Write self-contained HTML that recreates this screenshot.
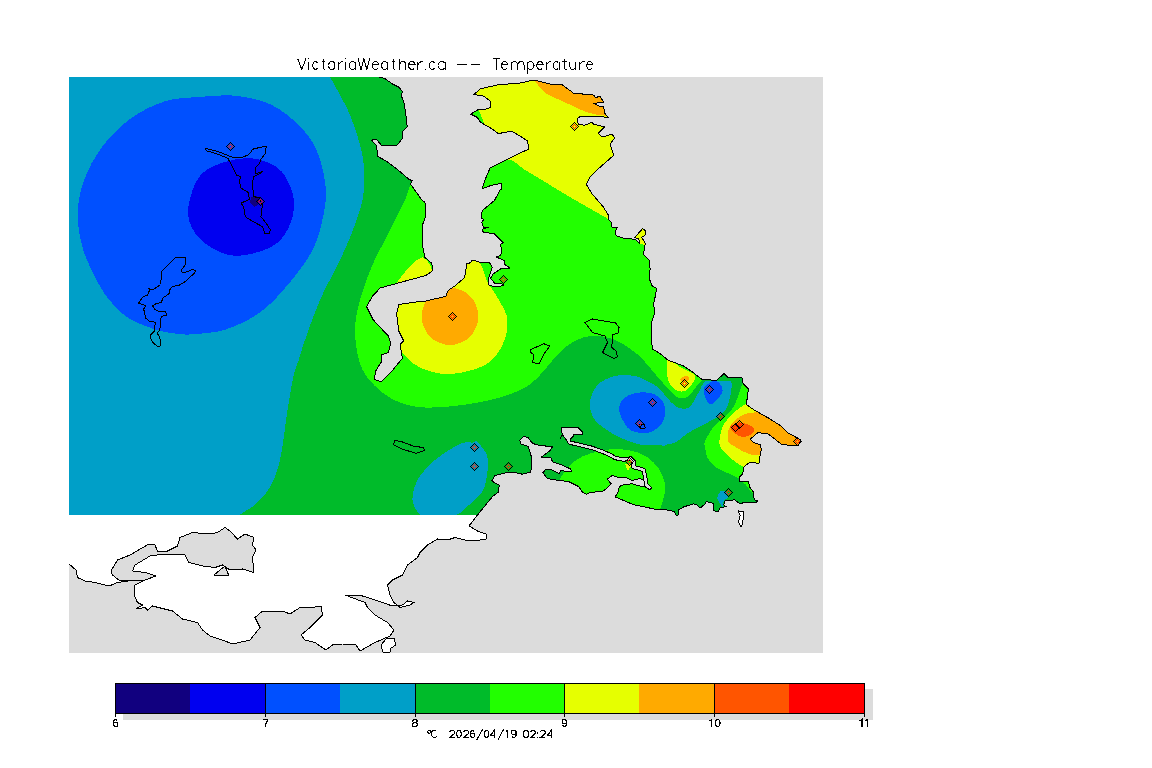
<!DOCTYPE html>
<html><head><meta charset="utf-8"><style>
html,body{margin:0;padding:0;background:#fff;width:1152px;height:768px;overflow:hidden}
svg{display:block;font-family:"Liberation Sans",sans-serif}
</style></head><body>
<svg width="1152" height="768" viewBox="0 0 1152 768" shape-rendering="crispEdges">
<rect x="69" y="77" width="754" height="576" fill="#dcdcdc"/>
<defs><clipPath id="cd"><path d="M69,77 L379.5,77 L384.4,78.3 L392.6,84 L399,87.2 L402.3,91.3 L401.5,96.2 L403.9,102.7 L405.6,112.4 L407.2,127.1 L402.3,132 L402.3,138.5 L397.4,145 L381.2,145 L376.3,139.3 L371.4,140.1 L376.3,145 L377.9,156.4 L387.7,162.1 L397.4,169.4 L408.8,179.2 L412.1,180.8 L410.5,184 L421.8,200 L425,202.5 L426,215 L422.5,225 L422.5,245 L425,257.5 L431.8,263.4 L432.9,270.5 L425.9,275.5 L400,282.5 L380.2,288 L372.5,296 L366.6,306.8 L373.1,319.7 L388.4,336.1 L390.7,343.2 L388.4,352.5 L381.3,354.9 L381.3,361.9 L375.5,371.3 L374.3,379.5 L381.3,381.9 L390.7,372.5 L402.4,358.4 L400.1,344.3 L403.6,340.8 L398.9,331.4 L396.6,313.9 L398.9,304.5 L415.3,302.1 L425.9,301 L445.8,296.3 L448.2,290.4 L455.2,285.7 L464.6,277.5 L466.9,263.4 L470.2,262.9 L471.9,260.4 L477,261.2 L482.1,262.9 L489.7,262.9 L492.3,267.2 L490.6,272.3 L488,279.9 L488.9,285 L494,286.7 L503.3,285.8 L503.3,284.1 L494.8,283.3 L490.6,278.2 L493.1,274 L500.7,268.9 L510,268 L505,264.6 L504.1,260.4 L498.2,257.9 L496.5,257 L500.7,255.3 L501.6,251.1 L500.7,244.3 L503.3,242.6 L499.2,238.8 L494.3,233.9 L483.1,232 L482.6,229.1 L488.4,227.1 L483.6,227.1 L481.6,222.2 L484,219.3 L481.6,218.3 L481.1,214.4 L482.6,210.5 L489.4,204.6 L494.3,200.7 L500.2,190 L501.6,188.9 L501.6,183.2 L490.2,185.7 L482.1,188.9 L485.3,179.2 L490.2,167.8 L506.5,159.6 L520,153.1 L529,149 L527.5,141 L520,136 L511.4,131.2 L498.3,133.6 L491.8,128.7 L480.4,122.2 L477.2,117.3 L470.7,114.1 L478.8,109.2 L483.7,110 L490.2,107.6 L490.2,101 L483.7,96.2 L473.9,94.5 L480.4,88.8 L498.3,84.8 L520,83.1 L534,80 L550,84 L562.5,85 L570,90.5 L573.6,93.2 L584.6,94.2 L593.7,95.1 L595.5,97.8 L600.1,96 L603.7,102.4 L593.7,103.3 L599.2,106 L603.7,106.9 L604.7,113.3 L608.3,117.3 L599.2,116.6 L588.2,116 L580.9,116 L577.3,118.8 L578.2,124.3 L584.6,125.2 L591.9,122.4 L593.7,124.3 L604.7,127 L601,130.6 L598.3,133.4 L601.9,137 L612,134.3 L614.7,137.9 L610.1,144.3 L613.8,155.3 L599.2,168 L590.1,177.2 L586.4,184.4 L591.9,193.6 L602.8,206.3 L608.4,215 L608.4,219.7 L611.5,222.3 L611.8,227 L617.5,227.5 L615.7,230.6 L615.4,234.8 L618,236.4 L622.2,237.9 L630,238.7 L635.2,239.5 L639.4,243.1 L638.9,239 L634.7,237.4 L640.9,230.6 L642.5,228.3 L645.6,231.1 L645.6,234.8 L641.5,237.4 L644.6,241.6 L645.4,244.2 L644.1,248.3 L644.6,245.5 L643.7,254.6 L649.2,260 L650.1,269.2 L649.2,278.3 L651.9,285.6 L656.5,288.3 L655.6,294.7 L653.7,303.8 L654.6,312.9 L651,323.8 L651,340.2 L652.8,349.3 L659.2,353 L668.3,360.3 L682.9,365.7 L691.7,371.4 L702,379.5 L716.7,380.3 L724,373.6 L728.5,378 L741.8,377.3 L743.3,384 L748.5,389 L746.3,404.6 L755,410.5 L768.4,418 L780,425.3 L787.6,432.6 L800.9,440 L798,446 L781.7,444.5 L768.4,434 L758,432.6 L750,439.3 L753.1,442.3 L760.2,444.7 L761.3,449.4 L760.2,455.2 L759,463.4 L749.6,462.3 L743.8,467 L742.6,474 L739.1,477.5 L739.1,481 L748.4,481 L749.6,486.9 L753.1,491.6 L754.3,499.8 L757.8,501 L755.5,502.7 L746.1,502.7 L739.1,503.3 L734.4,499.8 L725,500.9 L723.8,505 L726.2,506.8 L720.3,507.4 L718,511.5 L713.9,510.9 L713.3,505.6 L713.3,503.3 L706.3,501.5 L705.1,503.9 L700.4,508 L696.9,505 L693.4,503.9 L684,506.8 L678.1,510.3 L678.1,515 L675.8,515 L674.6,511.5 L665.2,509.7 L654.7,509.1 L633.3,504.6 L615.1,496.8 L617.7,492.9 L619.6,486.4 L622.9,485 L632,483.8 L641.1,486.4 L649.6,487.7 L646,481 L640,478.6 L632,480.5 L625.5,477.3 L617.7,477.3 L612.5,475.3 L607.3,479.2 L611.2,483.8 L607.3,487.7 L603.4,490.9 L589,492.9 L586.4,494.2 L582.5,492 L578.4,486.5 L568.9,481.7 L553.8,479.7 L547,478.3 L542.9,472.8 L545.6,469.4 L552.5,470.1 L559.3,473.5 L560.7,470.8 L571.6,471.5 L570.2,468.7 L560.7,464.6 L552.5,461.9 L551.1,457.8 L541.5,457.1 L549.7,451 L552.5,446.9 L536.1,444.8 L532,442.8 L527.9,437.3 L523.8,436.6 L519.7,440 L521,444.1 L527.9,446.2 L529.2,449.6 L531.3,456.4 L532,466 L530.6,472.2 L522.4,474.2 L512.8,472.2 L506,472.8 L495,475.6 L491.7,481 L499.2,485.1 L498.5,492 L492.3,496.8 L477.5,515 L69,515 Z"/></clipPath><clipPath id="cr"><rect x="69" y="77" width="754" height="438"/></clipPath></defs>
<g clip-path="url(#cr)"><g clip-path="url(#cd)"><rect x="69" y="77" width="754" height="438" fill="#00bb2a"/><path d="M330,77 C331.7,80.0 336.7,88.7 340,95 C343.3,101.3 346.7,106.7 350,115 C353.3,123.3 357.7,135.8 360,145 C362.3,154.2 363.6,160.8 364,170 C364.4,179.2 364.8,188.8 362.5,200 C360.2,211.2 354.2,226.7 350,237.5 C345.8,248.3 342.5,254.6 337.5,265 C332.5,275.4 325.4,287.5 320,300 C314.6,312.5 308.5,330.0 305,340 C301.5,350.0 300.6,354.2 298.75,360 C296.9,365.8 295.6,366.7 293.75,375 C291.9,383.3 289.6,396.7 287.5,410 C285.4,423.3 283.5,442.9 281,455 C278.5,467.1 276.4,474.6 272.5,482.5 C268.6,490.4 262.9,497.2 257.5,502.5 C252.1,507.8 245.4,510.8 240,514.5 C234.6,518.2 227.5,523.2 225,525 L60,525 L60,60 L320,60 Z" fill="#009fc8"/><path d="M200.6,96.9 C188.9,97.8 177.2,97.5 165.5,101.1 C153.8,104.7 140.9,111.1 130.3,118.7 C119.8,126.3 109.8,136.8 102.2,146.8 C94.6,156.8 88.7,167.4 84.6,178.5 C80.5,189.6 77.9,201.9 77.6,213.6 C77.3,225.3 79.4,237.1 82.9,248.8 C86.4,260.5 93.9,274.9 98.7,283.9 C103.5,292.9 106.8,297.1 112,303 C117.2,308.9 122.5,314.5 130,319 C137.5,323.5 149.3,327.6 157,330 C164.7,332.4 170.2,332.9 176,333.6 C181.8,334.3 183.8,335.0 192,334.3 C200.2,333.6 213.9,333.3 225.3,329.6 C236.7,325.9 249.8,319.7 260.4,312.1 C270.9,304.5 279.8,294.4 288.6,283.9 C297.4,273.3 307.4,260.5 313.2,248.8 C319.0,237.1 321.6,224.2 323.7,213.6 C325.8,203.0 326.7,196.1 325.5,185.5 C324.3,174.9 321.1,160.3 316.7,150.3 C312.3,140.3 306.7,133.3 299.1,125.7 C291.5,118.1 281.6,109.6 271,104.6 C260.4,99.6 247.5,97.1 235.8,95.8 C224.1,94.5 212.3,96.0 200.6,96.9 Z" fill="#0050ff"/><path d="M188.3,206.6 C189.8,197.8 193.8,182.5 200.6,174.9 C207.3,167.3 219.4,163.5 228.8,160.9 C238.2,158.3 248.1,157.3 256.9,159.1 C265.7,160.8 275.4,164.7 281.5,171.4 C287.6,178.1 292.6,190.1 293.8,199.5 C295.0,208.9 292.4,219.8 288.6,227.7 C284.8,235.6 279.8,242.3 271,247 C262.2,251.7 246.4,256.1 235.8,255.8 C225.2,255.5 215.0,250.0 207.7,245.3 C200.4,240.6 195.1,234.1 191.9,227.7 C188.7,221.2 186.9,215.4 188.3,206.6 Z" fill="#0000f0"/><path d="M251,197 L256,196 L259,199 L258,205 L254,207 L250,203 Z" fill="#11007f" /><path d="M420,160 C418.5,163.7 413.5,175.3 411,182 C408.5,188.7 408.9,191.2 405,200 C401.1,208.8 392.9,224.2 387.5,235 C382.1,245.8 377.1,254.2 372.5,265 C367.9,275.8 362.9,289.2 360,300 C357.1,310.8 355.2,320.0 355,330 C354.8,340.0 356.9,352.1 359,360 C361.1,367.9 363.6,372.1 367.5,377.5 C371.4,382.9 377.1,388.3 382.5,392.5 C387.9,396.7 392.9,400.0 400,402.5 C407.1,405.0 414.6,407.1 425,407.5 C435.4,407.9 450.0,406.7 462.5,405 C475.0,403.3 489.6,400.4 500,397.5 C510.4,394.6 518.3,391.2 525,387.5 C531.7,383.8 533.3,381.7 540,375 C546.7,368.3 556.7,354.0 565,347.5 C573.3,341.0 581.7,337.2 590,336 C598.3,334.8 607.5,337.2 615,340 C622.5,342.8 630.0,348.8 635,352.5 C640.0,356.2 641.7,358.5 645,362 C648.3,365.5 651.2,369.4 654.8,373.6 C658.4,377.8 662.9,383.1 666.6,387 C670.3,390.9 673.6,395.5 677,397.2 C680.4,398.9 684.0,398.9 687.2,397.2 C690.4,395.5 693.3,389.9 696,387 C698.7,384.1 700.3,382.3 703.5,379.5 C706.7,376.7 713.1,371.6 715,370 L823,370 L823,60 L430,60 Z" fill="#22ff00"/><path d="M395,290 C391.7,288.2 400.4,277.4 405,272 C409.6,266.6 417.9,257.4 422.5,257.5 C427.1,257.6 432.1,268.2 432.5,272.5 C432.9,276.8 431.2,280.1 425,283 C418.8,285.9 398.3,291.8 395,290 Z" fill="#e6ff00"/><path d="M455,270 C456.8,268.7 461.9,263.2 466,262 C470.1,260.8 476.4,260.4 479.6,263 C482.9,265.6 483.8,273.5 485.5,277.3 C487.2,281.1 487.8,282.2 490,286 C492.2,289.8 496.1,294.3 499,300 C501.9,305.7 506.9,312.5 507.5,320 C508.1,327.5 506.2,337.5 502.5,345 C498.8,352.5 493.8,360.2 485,365 C476.2,369.8 460.8,373.6 450,374 C439.2,374.4 428.0,371.2 420,367.5 C412.0,363.8 406.2,357.4 402,352 C397.8,346.6 396.2,337.8 395,335 L380,300 L430,290 Z" fill="#e6ff00"/><path d="M421.5,316 C421.5,309.2 425.2,300.8 430,296 C434.8,291.2 443.3,287.5 450,287.5 C456.7,287.5 465.2,291.2 470,296 C474.8,300.8 478.5,309.2 478.5,316 C478.5,322.8 474.8,332.2 470,337 C465.2,341.8 456.7,345.0 450,345 C443.3,345.0 434.8,341.8 430,337 C425.2,332.2 421.5,322.8 421.5,316 Z" fill="#ffaa00"/><path d="M480,170 C484.6,168.2 500.0,159.5 507.5,159.5 C515.0,159.5 517.9,165.8 525,170 C532.1,174.2 541.7,180.0 550,185 C558.3,190.0 565.0,194.2 575,200 C585.0,205.8 600.8,214.7 610,220 C619.2,225.3 626.7,230.0 630,232 L640,60 L460,60 L470,110 Z" fill="#e6ff00"/><path d="M530,75 C532.5,77.9 540.0,88.3 545,92.5 C550.0,96.7 552.8,96.7 560,100 C567.2,103.3 580.1,109.8 588,112.5 C595.9,115.2 602.2,115.1 607.5,116 C612.8,116.9 617.9,117.7 620,118 L620,70 Z" fill="#ffaa00"/><path d="M634,238 L642,227 L647,231 L646,245 L640,244 Z" fill="#e6ff00" /><path d="M462,112 L478.8,110 L484.5,124 L466,126 Z" fill="#22ff00" /><path d="M590,402.5 C590.4,396.7 593.3,389.4 597.5,385 C601.7,380.6 608.8,377.5 615,376 C621.2,374.5 629.2,374.9 635,376 C640.8,377.1 646.0,380.4 650,382.5 C654.0,384.6 654.8,384.5 659,388.4 C663.2,392.3 670.4,402.8 675.4,406 C680.4,409.2 685.0,409.6 688.7,407.6 C692.4,405.7 694.9,398.6 697.6,394.3 C700.3,390.0 701.8,383.9 705,381.7 C708.2,379.5 713.3,381.1 716.7,381 C720.1,380.9 723.1,380.8 725.6,381 C728.1,381.2 730.8,379.8 731.5,382.5 C732.2,385.2 731.2,392.3 730,397.2 C728.8,402.1 727.2,408.1 724,412 C720.8,415.9 716.7,417.4 710.8,420.8 C704.9,424.2 694.8,428.9 688.7,432.6 C682.6,436.3 679.0,441.0 674,443 C669.0,445.0 664.7,444.2 659,444.5 C653.3,444.8 647.3,446.1 640,444.5 C632.7,442.9 622.5,439.1 615,435 C607.5,430.9 599.2,425.4 595,420 C590.8,414.6 589.6,408.3 590,402.5 Z" fill="#009fc8"/><path d="M619,410 C618.6,405.0 621.5,400.4 625,397.5 C628.5,394.6 635.0,393.0 640,392.5 C645.0,392.0 650.9,392.6 654.8,394.3 C658.7,396.1 661.9,399.6 663.6,403 C665.3,406.4 665.7,411.1 665,415 C664.3,418.9 661.9,423.8 659.2,426.7 C656.5,429.6 652.4,431.6 648.9,432.6 C645.4,433.6 641.6,433.5 638,432.6 C634.4,431.8 630.7,431.3 627.5,427.5 C624.3,423.7 619.4,415.0 619,410 Z" fill="#0050ff"/><path d="M703.5,391.3 C703.0,387.9 705.8,385.7 708,384 C710.2,382.3 714.3,379.8 716.7,381 C719.1,382.2 723.6,387.4 722.6,391.3 C721.6,395.2 714.0,404.6 710.8,404.6 C707.6,404.6 704.0,394.7 703.5,391.3 Z" fill="#0050ff"/><path d="M666.6,361.8 C666.6,365.4 666.5,374.8 668,379.5 C669.5,384.2 672.4,387.9 675.4,389.8 C678.4,391.7 682.5,392.3 685.7,390.6 C688.9,388.9 693.4,382.3 694.6,379.5 C695.8,376.7 695.4,375.7 693,373.6 C690.6,371.5 684.2,369.6 680,367 C675.8,364.4 670.2,358.9 668,358 C665.8,357.1 666.6,358.2 666.6,361.8 Z" fill="#e6ff00"/><path d="M680,379 C680.2,378.2 682.5,376.8 684,376.5 C685.5,376.2 688.3,376.3 689,377 C689.7,377.7 689.0,379.8 688,380.5 C687.0,381.2 684.3,381.8 683,381.5 C681.7,381.2 679.8,379.8 680,379 Z" fill="#ffaa00"/><path d="M748,378 C747.0,379.2 743.8,381.4 741.8,385.4 C739.8,389.3 738.2,397.0 736,401.7 C733.8,406.4 732.2,409.3 728.5,413.5 C724.8,417.7 717.7,422.0 713.8,426.7 C709.9,431.4 706.5,438.1 705,441.5 C703.5,444.9 704.7,444.3 705.1,447 C705.5,449.7 705.6,454.3 707.4,457.6 C709.1,460.9 711.9,464.3 715.6,467 C719.3,469.7 725.8,472.1 729.7,474 C733.6,475.9 736.5,477.0 739,478.7 C741.5,480.4 744.0,483.1 745,484 L770,480 L780,380 Z" fill="#22ff00"/><path d="M743.8,481 L747.3,486.9 L753.1,494 L757,501 L760,480 Z" fill="#22ff00" /><path d="M750,402 C749.1,402.4 747.4,402.9 744.8,404.6 C742.2,406.3 738.0,408.8 734.5,412 C731.0,415.2 726.5,419.4 724,423.8 C721.5,428.2 720.3,434.6 719.7,438.5 C719.1,442.4 719.4,444.6 720.3,447 C721.2,449.4 722.6,450.5 725,452.9 C727.4,455.2 731.3,458.8 734.4,461.1 C737.5,463.5 741.2,465.5 743.8,467 C746.4,468.5 749.0,469.5 750,470 L790,470 L790,400 Z" fill="#e6ff00"/><path d="M760,409 C759.4,409.5 759.1,411.2 756.6,412 C754.1,412.8 748.7,412.5 745,414 C741.3,415.5 737.2,418.2 734.5,420.8 C731.8,423.4 729.5,426.2 728.5,429.7 C727.5,433.1 727.3,438.6 728.5,441.5 C729.7,444.4 733.0,445.3 735.5,447 C738.0,448.7 741.0,450.4 743.8,451.7 C746.6,453.0 749.3,454.2 752.2,454.8 C755.1,455.4 759.2,455.2 761.3,455.2 C763.4,455.2 764.4,455.0 765,455 L810,455 L810,409 Z" fill="#ffaa00"/><path d="M730,426.7 C730.2,425.0 734.7,424.3 737.4,423.8 C740.1,423.3 743.6,423.1 746.3,423.8 C749.0,424.5 752.6,426.5 753.6,428.2 C754.6,429.9 753.9,432.5 752.2,434 C750.5,435.5 746.0,437.0 743.3,437 C740.6,437.0 738.2,435.7 736,434 C733.8,432.3 729.8,428.4 730,426.7 Z" fill="#ff5500"/><path d="M555,490 C556.1,487.7 559.3,480.1 561.7,476 C564.1,471.9 566.0,468.9 569.5,465.6 C573.0,462.3 577.1,458.9 582.5,456.4 C587.9,453.9 595.5,451.8 602,450.6 C608.5,449.4 615.1,448.8 621.6,449.3 C628.1,449.8 635.7,451.5 641.1,453.8 C646.5,456.1 650.6,459.5 654.1,463 C657.6,466.5 660.1,470.7 662,474.7 C663.9,478.7 665.1,482.5 665.2,486.9 C665.4,491.3 663.7,497.4 662.9,500.9 C662.1,504.4 661.0,504.8 660.5,508 C660.0,511.2 660.1,518.0 660,520 L540,520 Z" fill="#22ff00"/><path d="M624.8,463.6 L632,463.6 L628,471.4 Z" fill="#e6ff00" /><path d="M472.5,442.5 C475.4,442.2 474.9,440.0 477.3,442.1 C479.7,444.2 485.2,450.4 486.9,455.1 C488.6,459.8 488.1,464.6 487.6,470.1 C487.1,475.6 485.8,483.3 484.1,487.9 C482.4,492.4 480.5,494.0 477.3,497.4 C474.1,500.8 468.3,505.5 465,508.4 C461.7,511.2 462.5,511.7 457.5,514.5 C452.5,517.3 441.2,525.0 435,525 C428.8,525.0 423.8,518.7 420,514.5 C416.2,510.3 412.9,505.8 412.5,500 C412.1,494.2 413.8,486.7 417.5,480 C421.2,473.3 427.9,466.0 435,460 C442.1,454.0 453.8,446.9 460,444 C466.2,441.1 469.6,442.8 472.5,442.5 Z" fill="#009fc8"/><path d="M720.3,491.6 C721.6,490.4 723.7,490.6 725,491.6 C726.3,492.6 728.2,495.8 728,497.4 C727.8,498.9 724.7,499.3 723.8,500.9 C722.9,502.5 723.8,507.2 722.7,506.8 C721.6,506.4 717.8,501.1 717.4,498.6 C717.0,496.1 719.0,492.8 720.3,491.6 Z" fill="#009fc8"/><path d="M650,443.5 L664,445.9 L678.1,440 Z" fill="#009fc8" /></g></g>
<path d="M379.5,77 L384.4,78.3 L392.6,84 L399,87.2 L402.3,91.3 L401.5,96.2 L403.9,102.7 L405.6,112.4 L407.2,127.1 L402.3,132 L402.3,138.5 L397.4,145 L381.2,145 L376.3,139.3 L371.4,140.1 L376.3,145 L377.9,156.4 L387.7,162.1 L397.4,169.4 L408.8,179.2 L412.1,180.8 L410.5,184 L421.8,200 L425,202.5 L426,215 L422.5,225 L422.5,245 L425,257.5 L431.8,263.4 L432.9,270.5 L425.9,275.5 L400,282.5 L380.2,288 L372.5,296 L366.6,306.8 L373.1,319.7 L388.4,336.1 L390.7,343.2 L388.4,352.5 L381.3,354.9 L381.3,361.9 L375.5,371.3 L374.3,379.5 L381.3,381.9 L390.7,372.5 L402.4,358.4 L400.1,344.3 L403.6,340.8 L398.9,331.4 L396.6,313.9 L398.9,304.5 L415.3,302.1 L425.9,301 L445.8,296.3 L448.2,290.4 L455.2,285.7 L464.6,277.5 L466.9,263.4 L470.2,262.9 L471.9,260.4 L477,261.2 L482.1,262.9 L489.7,262.9 L492.3,267.2 L490.6,272.3 L488,279.9 L488.9,285 L494,286.7 L503.3,285.8 L503.3,284.1 L494.8,283.3 L490.6,278.2 L493.1,274 L500.7,268.9 L510,268 L505,264.6 L504.1,260.4 L498.2,257.9 L496.5,257 L500.7,255.3 L501.6,251.1 L500.7,244.3 L503.3,242.6 L499.2,238.8 L494.3,233.9 L483.1,232 L482.6,229.1 L488.4,227.1 L483.6,227.1 L481.6,222.2 L484,219.3 L481.6,218.3 L481.1,214.4 L482.6,210.5 L489.4,204.6 L494.3,200.7 L500.2,190 L501.6,188.9 L501.6,183.2 L490.2,185.7 L482.1,188.9 L485.3,179.2 L490.2,167.8 L506.5,159.6 L520,153.1 L529,149 L527.5,141 L520,136 L511.4,131.2 L498.3,133.6 L491.8,128.7 L480.4,122.2 L477.2,117.3 L470.7,114.1 L478.8,109.2 L483.7,110 L490.2,107.6 L490.2,101 L483.7,96.2 L473.9,94.5 L480.4,88.8 L498.3,84.8 L520,83.1 L534,80 L550,84 L562.5,85 L570,90.5 L573.6,93.2 L584.6,94.2 L593.7,95.1 L595.5,97.8 L600.1,96 L603.7,102.4 L593.7,103.3 L599.2,106 L603.7,106.9 L604.7,113.3 L608.3,117.3 L599.2,116.6 L588.2,116 L580.9,116 L577.3,118.8 L578.2,124.3 L584.6,125.2 L591.9,122.4 L593.7,124.3 L604.7,127 L601,130.6 L598.3,133.4 L601.9,137 L612,134.3 L614.7,137.9 L610.1,144.3 L613.8,155.3 L599.2,168 L590.1,177.2 L586.4,184.4 L591.9,193.6 L602.8,206.3 L608.4,215 L608.4,219.7 L611.5,222.3 L611.8,227 L617.5,227.5 L615.7,230.6 L615.4,234.8 L618,236.4 L622.2,237.9 L630,238.7 L635.2,239.5 L639.4,243.1 L638.9,239 L634.7,237.4 L640.9,230.6 L642.5,228.3 L645.6,231.1 L645.6,234.8 L641.5,237.4 L644.6,241.6 L645.4,244.2 L644.1,248.3 L644.6,245.5 L643.7,254.6 L649.2,260 L650.1,269.2 L649.2,278.3 L651.9,285.6 L656.5,288.3 L655.6,294.7 L653.7,303.8 L654.6,312.9 L651,323.8 L651,340.2 L652.8,349.3 L659.2,353 L668.3,360.3 L682.9,365.7 L691.7,371.4 L702,379.5 L716.7,380.3 L724,373.6 L728.5,378 L741.8,377.3 L743.3,384 L748.5,389 L746.3,404.6 L755,410.5 L768.4,418 L780,425.3 L787.6,432.6 L800.9,440 L798,446 L781.7,444.5 L768.4,434 L758,432.6 L750,439.3 L753.1,442.3 L760.2,444.7 L761.3,449.4 L760.2,455.2 L759,463.4 L749.6,462.3 L743.8,467 L742.6,474 L739.1,477.5 L739.1,481 L748.4,481 L749.6,486.9 L753.1,491.6 L754.3,499.8 L757.8,501 L755.5,502.7 L746.1,502.7 L739.1,503.3 L734.4,499.8 L725,500.9 L723.8,505 L726.2,506.8 L720.3,507.4 L718,511.5 L713.9,510.9 L713.3,505.6 L713.3,503.3 L706.3,501.5 L705.1,503.9 L700.4,508 L696.9,505 L693.4,503.9 L684,506.8 L678.1,510.3 L678.1,515 L675.8,515 L674.6,511.5 L665.2,509.7 L654.7,509.1 L633.3,504.6 L615.1,496.8 L617.7,492.9 L619.6,486.4 L622.9,485 L632,483.8 L641.1,486.4 L649.6,487.7 L646,481 L640,478.6 L632,480.5 L625.5,477.3 L617.7,477.3 L612.5,475.3 L607.3,479.2 L611.2,483.8 L607.3,487.7 L603.4,490.9 L589,492.9 L586.4,494.2 L582.5,492 L578.4,486.5 L568.9,481.7 L553.8,479.7 L547,478.3 L542.9,472.8 L545.6,469.4 L552.5,470.1 L559.3,473.5 L560.7,470.8 L571.6,471.5 L570.2,468.7 L560.7,464.6 L552.5,461.9 L551.1,457.8 L541.5,457.1 L549.7,451 L552.5,446.9 L536.1,444.8 L532,442.8 L527.9,437.3 L523.8,436.6 L519.7,440 L521,444.1 L527.9,446.2 L529.2,449.6 L531.3,456.4 L532,466 L530.6,472.2 L522.4,474.2 L512.8,472.2 L506,472.8 L495,475.6 L491.7,481 L499.2,485.1 L498.5,492 L492.3,496.8 L477.5,515" fill="none" stroke="#000" stroke-width="1" stroke-linejoin="round"/>
<path d="M572,435 L568,439 L569.5,442.5 L581.2,445.4 L591.7,447.8 L602,451.5 L611.2,455.5 L615.1,458 L622.9,459.5 L630.7,458.5 L634,462 L633.3,466.9 L643.7,470 L645,476 L646.3,485 L649.6,487.7" fill="none" stroke="#000" stroke-width="4.4" stroke-linejoin="round" stroke-linecap="round"/>
<path d="M561.5,427.5 L577.8,427.5 L582.4,431.8 L582.4,434.7 L574.2,434.7 L569,437 L566,440 L563,435 L561.5,432 Z" fill="#dcdcdc" stroke="#000" stroke-width="1" stroke-linejoin="round"/>
<path d="M560,438.5 L563,434" fill="none" stroke="#000" stroke-width="1"/>
<path d="M572,435 L568,439 L569.5,442.5 L581.2,445.4 L591.7,447.8 L602,451.5 L611.2,455.5 L615.1,458 L622.9,459.5 L630.7,458.5 L634,462 L633.3,466.9 L643.7,470 L645,476 L646.3,485 L649.6,487.7" fill="none" stroke="#dcdcdc" stroke-width="2.4" stroke-linejoin="round" stroke-linecap="round"/>
<path d="M69,515 L477.5,515 L469,526 L477.5,531 L486,534 L486,539 L475,541 L465,540 L455,537.5 L447.5,540 L437.5,539 L427.5,545 L420,552.5 L417.5,557.5 L407.5,565 L402.5,575 L392.5,580 L387.5,585 L390,595 L394,602.5 L400,607.5 L410,605 L414,602.5 L407.5,601 L402.5,605 L392.5,606 L375,600 L362.5,596 L345,595 L365,602.5 L367.5,607.5 L375,615 L387.5,622.5 L394,630 L390,636 L375,642.5 L366,647.5 L360,651 L356,645 L342.5,644 L332.5,645 L326,650 L315,642.5 L305,640 L301,635 L310,627.5 L322.5,615 L321,606 L312.5,607.5 L300,607.5 L290,614 L282.5,611 L262.5,611 L255,617.5 L260,627.5 L250,640 L232.5,644 L225,641 L210,636 L202.5,630 L197.5,622.5 L182.5,619 L172.5,611 L152.5,606 L147.5,610 L145,607.5 L136,609 L142.5,605 L137.5,602.5 L134,595 L135,585 L145,580 L135,580 L117.5,582.5 L109,586 L95,582.5 L85,581 L77.5,577.5 L76,570 L69,564" fill="#fff"/>
<path d="M477.5,515 L469,526 L477.5,531 L486,534 L486,539 L475,541 L465,540 L455,537.5 L447.5,540 L437.5,539 L427.5,545 L420,552.5 L417.5,557.5 L407.5,565 L402.5,575 L392.5,580 L387.5,585 L390,595 L394,602.5 L400,607.5 L410,605 L414,602.5 L407.5,601 L402.5,605 L392.5,606 L375,600 L362.5,596 L345,595 L365,602.5 L367.5,607.5 L375,615 L387.5,622.5 L394,630 L390,636 L375,642.5 L366,647.5 L360,651 L356,645 L342.5,644 L332.5,645 L326,650 L315,642.5 L305,640 L301,635 L310,627.5 L322.5,615 L321,606 L312.5,607.5 L300,607.5 L290,614 L282.5,611 L262.5,611 L255,617.5 L260,627.5 L250,640 L232.5,644 L225,641 L210,636 L202.5,630 L197.5,622.5 L182.5,619 L172.5,611 L152.5,606 L147.5,610 L145,607.5 L136,609 L142.5,605 L137.5,602.5 L134,595 L135,585 L145,580 L135,580 L117.5,582.5 L109,586 L95,582.5 L85,581 L77.5,577.5 L76,570 L69,564" fill="none" stroke="#000" stroke-width="1" stroke-linejoin="round"/>
<path d="M111,571 L117.5,560 L130,555 L149,544 L155,545 L157.5,551 L167.5,551 L177.5,546 L180,537.5 L192.5,532.5 L210,534 L217.5,532.5 L225,527.5 L230,531 L237.5,539 L245,534 L254,537.5 L252.5,545 L256,550 L252.5,557.5 L254,572.5 L242.5,569 L230,570 L222.5,565 L215,567.5 L202.5,566 L189,562.5 L185,555 L180,554 L165,554 L150,556 L135,565 L132.5,571 L145,572.5 L156,576 L145,580 L120,581 L112.5,575 Z" fill="#dcdcdc" stroke="#000" stroke-width="1" stroke-linejoin="round"/>
<path d="M214,575 L225,566 L229,576 Z" fill="#dcdcdc" stroke="#000" stroke-width="1" stroke-linejoin="round"/>
<path d="M383,652 L381,645 L386,639 L394,638 L396,645 L391,648 L390,652 Z" fill="#fff" stroke="#000" stroke-width="1" stroke-linejoin="round"/>
<path d="M737.9,510.9 L743.8,511.5 L742.6,524.4 L740.8,526.7 L738.5,522 L740.2,515 Z" fill="#fff" stroke="#000" stroke-width="1" stroke-linejoin="round"/>
<path d="M175.8,257.3 L185.1,257.3 L185.8,263.9 L181.1,270.6 L182.4,272.6 L187.1,271.9 L192.4,269.2 L195.7,270.6 L193.7,273.9 L188.4,278.5 L185.8,281.2 L179.1,285.2 L172.5,286.5 L169.8,289.8 L169.8,293.1 L163.2,297.8 L161.2,302.4 L155.9,303.8 L152.6,305.8 L154.6,309.1 L158.5,311.1 L165.8,311.7 L166.5,315 L161.9,316.4 L160.5,319 L159.9,329.6 L157.2,333 L159.9,337.6 L160.5,345.6 L158.5,346.9 L154.6,344.3 L151.2,340.3 L150.6,335 L154.6,331 L155.2,322.3 L149.2,321 L145.3,317.7 L144.6,311.1 L143.3,309.7 L145.9,305.8 L138.6,303.1 L142.6,297.1 L147.3,295.1 L149.9,289.8 L148.6,288.5 L153.2,289.8 L160.5,284.5 L161.9,271.2 Z" fill="none" stroke="#000" stroke-width="1" stroke-linejoin="round"/>
<path d="M639,425 L644,424 L645.5,428 L640.5,428.5 Z" fill="none" stroke="#000" stroke-width="1" stroke-linejoin="round"/>
<path d="M394.8,440.4 L401.9,441.8 L413.4,446.1 L423.4,447.6 L424.8,450.4 L416.2,453.3 L401.9,449 L393.3,444.7 Z" fill="none" stroke="#000" stroke-width="1" stroke-linejoin="round"/>
<path d="M530,350 L543.75,343.75 L550,346 L545,352.5 L541,360 L539,364 L532.5,362.5 L534,355 L531,352.5 Z" fill="none" stroke="#000" stroke-width="1" stroke-linejoin="round"/>
<path d="M585,322.5 L592.5,319 L610,322 L615.5,322.9 L619.1,327.5 L618.2,333 L612.7,334.8 L611.8,347.5 L616.4,351.2 L617.3,356.6 L614.6,358.5 L610,356.6 L602.5,352.5 L607.5,342.5 L605,336 L592.5,332.5 Z" fill="none" stroke="#000" stroke-width="1" stroke-linejoin="round"/>
<path d="M205,148.2 L209.3,149.3 L217.9,151.5 L232.3,157.2 L240.9,157.9 L248,155 L250.9,152.2 L252.3,149.3 L258,147.9 L265.2,146.2 L266.7,146.8 L265.2,149.3 L265.2,153.6 L260.9,159.4 L259.5,163.7 L255.2,168 L255.2,173.7 L258,173 L263,171.5 L259.5,173.7 L253.8,176.6 L252.3,183.7 L253.8,196.6 L259.5,198 L262.4,205.2 L260.9,216.7 L266.7,223.9 L270.2,229.6 L269.5,233.9 L265.2,233.9 L262.4,226.7 L252.3,221 L245.2,216.7 L243.7,206.7 L240.9,203.1 L249.5,199.5 L248,192.3 L240.9,188 L239.4,180.9 L240.9,176.6 L236.6,175.1 L230.8,163.7 L228,158.6 L223.7,156.5 L212.2,152.2 L206.5,150.8 Z" fill="none" stroke="#000" stroke-width="1" stroke-linejoin="round"/>
<path d="M228,146h1v1h-1zM229,145h1v1h-1zM229,147h1v1h-1zM230,144h1v1h-1zM230,148h1v1h-1zM231,145h1v1h-1zM231,147h1v1h-1zM232,146h1v1h-1zM258,201h1v1h-1zM259,200h1v1h-1zM259,202h1v1h-1zM260,199h1v1h-1zM260,203h1v1h-1zM261,200h1v1h-1zM261,202h1v1h-1zM262,201h1v1h-1zM450,316h1v1h-1zM451,315h1v1h-1zM451,317h1v1h-1zM452,314h1v1h-1zM452,318h1v1h-1zM453,315h1v1h-1zM453,317h1v1h-1zM454,316h1v1h-1zM501,279h1v1h-1zM502,278h1v1h-1zM502,280h1v1h-1zM503,277h1v1h-1zM503,281h1v1h-1zM504,278h1v1h-1zM504,280h1v1h-1zM505,279h1v1h-1zM572,126h1v1h-1zM573,125h1v1h-1zM573,127h1v1h-1zM574,124h1v1h-1zM574,128h1v1h-1zM575,125h1v1h-1zM575,127h1v1h-1zM576,126h1v1h-1zM472,447h1v1h-1zM473,446h1v1h-1zM473,448h1v1h-1zM474,445h1v1h-1zM474,449h1v1h-1zM475,446h1v1h-1zM475,448h1v1h-1zM476,447h1v1h-1zM472,466h1v1h-1zM473,465h1v1h-1zM473,467h1v1h-1zM474,464h1v1h-1zM474,468h1v1h-1zM475,465h1v1h-1zM475,467h1v1h-1zM476,466h1v1h-1zM506,466h1v1h-1zM507,465h1v1h-1zM507,467h1v1h-1zM508,464h1v1h-1zM508,468h1v1h-1zM509,465h1v1h-1zM509,467h1v1h-1zM510,466h1v1h-1zM682,383h1v1h-1zM683,382h1v1h-1zM683,384h1v1h-1zM684,381h1v1h-1zM684,385h1v1h-1zM685,382h1v1h-1zM685,384h1v1h-1zM686,383h1v1h-1zM707,389h1v1h-1zM708,388h1v1h-1zM708,390h1v1h-1zM709,387h1v1h-1zM709,391h1v1h-1zM710,388h1v1h-1zM710,390h1v1h-1zM711,389h1v1h-1zM650,402h1v1h-1zM651,401h1v1h-1zM651,403h1v1h-1zM652,400h1v1h-1zM652,404h1v1h-1zM653,401h1v1h-1zM653,403h1v1h-1zM654,402h1v1h-1zM637,423h1v1h-1zM638,422h1v1h-1zM638,424h1v1h-1zM639,421h1v1h-1zM639,425h1v1h-1zM640,422h1v1h-1zM640,424h1v1h-1zM641,423h1v1h-1zM718,416h1v1h-1zM719,415h1v1h-1zM719,417h1v1h-1zM720,414h1v1h-1zM720,418h1v1h-1zM721,415h1v1h-1zM721,417h1v1h-1zM722,416h1v1h-1zM733,427h1v1h-1zM734,426h1v1h-1zM734,428h1v1h-1zM735,425h1v1h-1zM735,429h1v1h-1zM736,426h1v1h-1zM736,428h1v1h-1zM737,427h1v1h-1zM737,424h1v1h-1zM738,423h1v1h-1zM738,425h1v1h-1zM739,422h1v1h-1zM739,426h1v1h-1zM740,423h1v1h-1zM740,425h1v1h-1zM741,424h1v1h-1zM795,441h1v1h-1zM796,440h1v1h-1zM796,442h1v1h-1zM797,439h1v1h-1zM797,443h1v1h-1zM798,440h1v1h-1zM798,442h1v1h-1zM799,441h1v1h-1zM627,461h1v1h-1zM628,460h1v1h-1zM628,462h1v1h-1zM629,459h1v1h-1zM629,463h1v1h-1zM630,460h1v1h-1zM630,462h1v1h-1zM631,461h1v1h-1zM726,492h1v1h-1zM727,491h1v1h-1zM727,493h1v1h-1zM728,490h1v1h-1zM728,494h1v1h-1zM729,491h1v1h-1zM729,493h1v1h-1zM730,492h1v1h-1z" fill="#ff1a00" shape-rendering="crispEdges"/>
<path d="M226,146h1v1h-1zM227,145h1v1h-1zM227,147h1v1h-1zM228,144h1v1h-1zM228,148h1v1h-1zM229,143h1v1h-1zM229,149h1v1h-1zM230,142h1v1h-1zM230,150h1v1h-1zM231,143h1v1h-1zM231,149h1v1h-1zM232,144h1v1h-1zM232,148h1v1h-1zM233,145h1v1h-1zM233,147h1v1h-1zM234,146h1v1h-1zM256,201h1v1h-1zM257,200h1v1h-1zM257,202h1v1h-1zM258,199h1v1h-1zM258,203h1v1h-1zM259,198h1v1h-1zM259,204h1v1h-1zM260,197h1v1h-1zM260,205h1v1h-1zM261,198h1v1h-1zM261,204h1v1h-1zM262,199h1v1h-1zM262,203h1v1h-1zM263,200h1v1h-1zM263,202h1v1h-1zM264,201h1v1h-1zM448,316h1v1h-1zM449,315h1v1h-1zM449,317h1v1h-1zM450,314h1v1h-1zM450,318h1v1h-1zM451,313h1v1h-1zM451,319h1v1h-1zM452,312h1v1h-1zM452,320h1v1h-1zM453,313h1v1h-1zM453,319h1v1h-1zM454,314h1v1h-1zM454,318h1v1h-1zM455,315h1v1h-1zM455,317h1v1h-1zM456,316h1v1h-1zM499,279h1v1h-1zM500,278h1v1h-1zM500,280h1v1h-1zM501,277h1v1h-1zM501,281h1v1h-1zM502,276h1v1h-1zM502,282h1v1h-1zM503,275h1v1h-1zM503,283h1v1h-1zM504,276h1v1h-1zM504,282h1v1h-1zM505,277h1v1h-1zM505,281h1v1h-1zM506,278h1v1h-1zM506,280h1v1h-1zM507,279h1v1h-1zM570,126h1v1h-1zM571,125h1v1h-1zM571,127h1v1h-1zM572,124h1v1h-1zM572,128h1v1h-1zM573,123h1v1h-1zM573,129h1v1h-1zM574,122h1v1h-1zM574,130h1v1h-1zM575,123h1v1h-1zM575,129h1v1h-1zM576,124h1v1h-1zM576,128h1v1h-1zM577,125h1v1h-1zM577,127h1v1h-1zM578,126h1v1h-1zM470,447h1v1h-1zM471,446h1v1h-1zM471,448h1v1h-1zM472,445h1v1h-1zM472,449h1v1h-1zM473,444h1v1h-1zM473,450h1v1h-1zM474,443h1v1h-1zM474,451h1v1h-1zM475,444h1v1h-1zM475,450h1v1h-1zM476,445h1v1h-1zM476,449h1v1h-1zM477,446h1v1h-1zM477,448h1v1h-1zM478,447h1v1h-1zM470,466h1v1h-1zM471,465h1v1h-1zM471,467h1v1h-1zM472,464h1v1h-1zM472,468h1v1h-1zM473,463h1v1h-1zM473,469h1v1h-1zM474,462h1v1h-1zM474,470h1v1h-1zM475,463h1v1h-1zM475,469h1v1h-1zM476,464h1v1h-1zM476,468h1v1h-1zM477,465h1v1h-1zM477,467h1v1h-1zM478,466h1v1h-1zM504,466h1v1h-1zM505,465h1v1h-1zM505,467h1v1h-1zM506,464h1v1h-1zM506,468h1v1h-1zM507,463h1v1h-1zM507,469h1v1h-1zM508,462h1v1h-1zM508,470h1v1h-1zM509,463h1v1h-1zM509,469h1v1h-1zM510,464h1v1h-1zM510,468h1v1h-1zM511,465h1v1h-1zM511,467h1v1h-1zM512,466h1v1h-1zM680,383h1v1h-1zM681,382h1v1h-1zM681,384h1v1h-1zM682,381h1v1h-1zM682,385h1v1h-1zM683,380h1v1h-1zM683,386h1v1h-1zM684,379h1v1h-1zM684,387h1v1h-1zM685,380h1v1h-1zM685,386h1v1h-1zM686,381h1v1h-1zM686,385h1v1h-1zM687,382h1v1h-1zM687,384h1v1h-1zM688,383h1v1h-1zM705,389h1v1h-1zM706,388h1v1h-1zM706,390h1v1h-1zM707,387h1v1h-1zM707,391h1v1h-1zM708,386h1v1h-1zM708,392h1v1h-1zM709,385h1v1h-1zM709,393h1v1h-1zM710,386h1v1h-1zM710,392h1v1h-1zM711,387h1v1h-1zM711,391h1v1h-1zM712,388h1v1h-1zM712,390h1v1h-1zM713,389h1v1h-1zM648,402h1v1h-1zM649,401h1v1h-1zM649,403h1v1h-1zM650,400h1v1h-1zM650,404h1v1h-1zM651,399h1v1h-1zM651,405h1v1h-1zM652,398h1v1h-1zM652,406h1v1h-1zM653,399h1v1h-1zM653,405h1v1h-1zM654,400h1v1h-1zM654,404h1v1h-1zM655,401h1v1h-1zM655,403h1v1h-1zM656,402h1v1h-1zM635,423h1v1h-1zM636,422h1v1h-1zM636,424h1v1h-1zM637,421h1v1h-1zM637,425h1v1h-1zM638,420h1v1h-1zM638,426h1v1h-1zM639,419h1v1h-1zM639,427h1v1h-1zM640,420h1v1h-1zM640,426h1v1h-1zM641,421h1v1h-1zM641,425h1v1h-1zM642,422h1v1h-1zM642,424h1v1h-1zM643,423h1v1h-1zM716,416h1v1h-1zM717,415h1v1h-1zM717,417h1v1h-1zM718,414h1v1h-1zM718,418h1v1h-1zM719,413h1v1h-1zM719,419h1v1h-1zM720,412h1v1h-1zM720,420h1v1h-1zM721,413h1v1h-1zM721,419h1v1h-1zM722,414h1v1h-1zM722,418h1v1h-1zM723,415h1v1h-1zM723,417h1v1h-1zM724,416h1v1h-1zM731,427h1v1h-1zM732,426h1v1h-1zM732,428h1v1h-1zM733,425h1v1h-1zM733,429h1v1h-1zM734,424h1v1h-1zM734,430h1v1h-1zM735,423h1v1h-1zM735,431h1v1h-1zM736,424h1v1h-1zM736,430h1v1h-1zM737,425h1v1h-1zM737,429h1v1h-1zM738,426h1v1h-1zM738,428h1v1h-1zM739,427h1v1h-1zM735,424h1v1h-1zM736,423h1v1h-1zM736,425h1v1h-1zM737,422h1v1h-1zM737,426h1v1h-1zM738,421h1v1h-1zM738,427h1v1h-1zM739,420h1v1h-1zM739,428h1v1h-1zM740,421h1v1h-1zM740,427h1v1h-1zM741,422h1v1h-1zM741,426h1v1h-1zM742,423h1v1h-1zM742,425h1v1h-1zM743,424h1v1h-1zM793,441h1v1h-1zM794,440h1v1h-1zM794,442h1v1h-1zM795,439h1v1h-1zM795,443h1v1h-1zM796,438h1v1h-1zM796,444h1v1h-1zM797,437h1v1h-1zM797,445h1v1h-1zM798,438h1v1h-1zM798,444h1v1h-1zM799,439h1v1h-1zM799,443h1v1h-1zM800,440h1v1h-1zM800,442h1v1h-1zM801,441h1v1h-1zM625,461h1v1h-1zM626,460h1v1h-1zM626,462h1v1h-1zM627,459h1v1h-1zM627,463h1v1h-1zM628,458h1v1h-1zM628,464h1v1h-1zM629,457h1v1h-1zM629,465h1v1h-1zM630,458h1v1h-1zM630,464h1v1h-1zM631,459h1v1h-1zM631,463h1v1h-1zM632,460h1v1h-1zM632,462h1v1h-1zM633,461h1v1h-1zM724,492h1v1h-1zM725,491h1v1h-1zM725,493h1v1h-1zM726,490h1v1h-1zM726,494h1v1h-1zM727,489h1v1h-1zM727,495h1v1h-1zM728,488h1v1h-1zM728,496h1v1h-1zM729,489h1v1h-1zM729,495h1v1h-1zM730,490h1v1h-1zM730,494h1v1h-1zM731,491h1v1h-1zM731,493h1v1h-1zM732,492h1v1h-1z" fill="#000" shape-rendering="crispEdges"/>
<rect x="123" y="689" width="750" height="31" fill="#dcdcdc"/>
<rect x="115.00" y="683" width="75.9" height="30" fill="#11007f"/>
<rect x="189.90" y="683" width="75.9" height="30" fill="#0000f0"/>
<rect x="264.80" y="683" width="75.9" height="30" fill="#0050ff"/>
<rect x="339.70" y="683" width="75.9" height="30" fill="#009fc8"/>
<rect x="414.60" y="683" width="75.9" height="30" fill="#00bb2a"/>
<rect x="489.50" y="683" width="75.9" height="30" fill="#22ff00"/>
<rect x="564.40" y="683" width="75.9" height="30" fill="#e6ff00"/>
<rect x="639.30" y="683" width="75.9" height="30" fill="#ffaa00"/>
<rect x="714.20" y="683" width="75.9" height="30" fill="#ff5500"/>
<rect x="789.10" y="683" width="75.9" height="30" fill="#ff0000"/>
<rect x="115.5" y="683.5" width="749" height="30" fill="none" stroke="#000" stroke-width="1"/>
<line x1="115.5" y1="683" x2="115.5" y2="717" stroke="#000" stroke-width="1"/>
<line x1="265.3" y1="683" x2="265.3" y2="717" stroke="#000" stroke-width="1"/>
<line x1="415.1" y1="683" x2="415.1" y2="717" stroke="#000" stroke-width="1"/>
<line x1="564.9000000000001" y1="683" x2="564.9000000000001" y2="717" stroke="#000" stroke-width="1"/>
<line x1="714.7" y1="683" x2="714.7" y2="717" stroke="#000" stroke-width="1"/>
<line x1="864.5" y1="683" x2="864.5" y2="717" stroke="#000" stroke-width="1"/>
<path d="M297.6,58.5 L301.8,69.5 L306,58.5 M308.5,61.5 L308.5,69.5 M317.34,62.67 A2.6,4 0 1,0 317.34,68.33 M323.5,58.5 L323.5,68 Q323.5,69.5 325.1,69.5 M321.9,61.5 L325.1,61.5 M328.5,65.5 A3.15,4 0 1,0 334.8,65.5 A3.15,4 0 1,0 328.5,65.5 M338.4,61.5 L338.4,69.5 M338.4,65.5 Q339.75,61.5 342.9,61.5 M345.7,61.5 L345.7,69.5 M354.61,62.93 A2.95,4 0 1,0 354.61,68.07 M355.6,61.5 L355.6,69.5 M358.1,58.5 L361,69.5 L363.9,58.5 L366.8,69.5 L369.7,58.5 M372.4,64.86 L378.8,64.86 A3.2,4 0 1,0 377.86,68.33 M386.56,62.93 A2.75,4 0 1,0 386.56,68.07 M387.5,61.5 L387.5,69.5 M393.65,58.5 L393.65,68 Q393.65,69.5 395.3,69.5 M392,61.5 L395.3,61.5 M399.3,58.5 L399.3,69.5 M399.3,64.7 Q400.26,61.5 402.82,61.5 Q405.7,61.5 405.7,65.1 L405.7,69.5 M408.5,64.86 L415.3,64.86 A3.4,4 0 1,0 414.3,68.33 M417.5,61.5 L417.5,69.5 M417.5,65.5 Q419.06,61.5 422.7,61.5  M434.34,62.67 A2.95,4 0 1,0 434.34,68.33 M444.46,62.93 A3.6,4 0 1,0 444.46,68.07 M445.6,61.5 L445.6,69.5 M457.4,64.5 L467.2,64.5 M471.3,64.5 L480.4,64.5 M492.5,58.5 L499.5,58.5 M496,58.5 L496,69.5 M501.5,64.86 L507.5,64.86 A3,4 0 1,0 506.62,68.33 M511.1,61.5 L511.1,69.5 M511.1,64.7 Q512.13,61.5 514.71,61.5 Q517.55,61.5 517.55,65.1 L517.55,69.5 M517.55,64.7 Q518.58,61.5 521.16,61.5 Q524,61.5 524,65.1 L524,69.5 M528.41,62.93 A3.05,4 0 1,1 528.41,68.07 M527.4,61.5 L527.4,73.5 M536.6,64.86 L543.25,64.86 A3.33,4 0 1,0 542.28,68.33 M546.5,61.5 L546.5,69.5 M546.5,65.5 Q547.76,61.5 550.7,61.5 M558.24,62.93 A2.8,4 0 1,0 558.24,68.07 M559.2,61.5 L559.2,69.5 M564.6,58.5 L564.6,68 Q564.6,69.5 566.9,69.5 M562.3,61.5 L566.9,61.5 M569.9,61.5 L569.9,65.9 Q569.9,69.5 572.42,69.5 Q575.5,69.5 575.5,66.3 M575.5,61.5 L575.5,69.5 M579.2,61.5 L579.2,69.5 M579.2,65.5 Q580.85,61.5 584.7,61.5 M586.6,64.86 L592.6,64.86 A3,4 0 1,0 591.72,68.33" fill="none" stroke="#000" stroke-width="1" shape-rendering="crispEdges"/>
<rect x="308.00" y="58.00" width="1" height="1" fill="#000"/><rect x="345.20" y="58.00" width="1" height="1" fill="#000"/><rect x="424.80" y="69.00" width="1" height="1" fill="#000"/>
<path d="M427.7,731.8 A1.5,1.5 0 1,0 430.7,731.8 A1.5,1.5 0 1,0 427.7,731.8 M436.61,731.35 A3.05,3.6 0 1,0 436.61,736.45 M449.7,732.32 Q449.94,730.3 452.1,730.3 Q454.5,730.3 454.5,732.6 Q454.5,734.26 452.34,735.2 L449.7,737.5 L454.5,737.5 M456.6,733.9 A2.35,3.6 0 1,0 461.3,733.9 A2.35,3.6 0 1,0 456.6,733.9 M463.8,732.32 Q464.04,730.3 466.15,730.3 Q468.5,730.3 468.5,732.6 Q468.5,734.26 466.38,735.2 L463.8,737.5 L468.5,737.5 M474.19,731.38 Q473.41,730.3 472.55,730.3 Q470.6,730.3 470.6,734.62 Q470.6,737.5 472.55,737.5 Q474.5,737.5 474.5,735.34 Q474.5,733.18 472.55,733.18 Q470.6,733.18 470.6,735.2 M482.5,729.3 L476.6,740.5 M484.4,733.9 A2.2,3.6 0 1,0 488.8,733.9 A2.2,3.6 0 1,0 484.4,733.9 M494.17,737.5 L494.17,730.3 L490.5,735.34 L495.2,735.34 M503.5,729.3 L497.7,740.5 M505.8,731.74 L507.8,730.3 L507.8,737.5 M511.78,736.42 Q512.74,737.5 513.8,737.5 Q516.2,737.5 516.2,733.18 Q516.2,730.3 513.8,730.3 Q511.4,730.3 511.4,732.6 Q511.4,734.62 513.8,734.62 Q516.2,734.62 516.2,732.6 M523.5,733.9 A2.5,3.6 0 1,0 528.5,733.9 A2.5,3.6 0 1,0 523.5,733.9 M530.6,732.32 Q530.84,730.3 532.95,730.3 Q535.3,730.3 535.3,732.6 Q535.3,734.26 533.19,735.2 L530.6,737.5 L535.3,737.5  M540.4,732.32 Q540.65,730.3 542.9,730.3 Q545.4,730.3 545.4,732.6 Q545.4,734.26 543.15,735.2 L540.4,737.5 L545.4,737.5 M551.24,737.5 L551.24,730.3 L547.5,735.34 L552.3,735.34" fill="none" stroke="#000" stroke-width="1.2" shape-rendering="crispEdges"/>
<rect x="536.75" y="732.29" width="1.5" height="1.5" fill="#000"/><rect x="536.75" y="736.75" width="1.5" height="1.5" fill="#000"/>
<path d="M117.44,720.55 Q116.54,719.5 115.55,719.5 Q113.3,719.5 113.3,723.7 Q113.3,726.5 115.55,726.5 Q117.8,726.5 117.8,724.4 Q117.8,722.3 115.55,722.3 Q113.3,722.3 113.3,724.26 M263.3,719.5 L267.8,719.5 L264.88,726.5 M414.85,722.72 A2.23,1.61 0 1,1 414.85,719.5 A2.23,1.61 0 1,1 414.85,722.72 A2.65,1.89 0 1,0 414.85,726.5 A2.65,1.89 0 1,0 414.85,722.72 M562.56,725.45 Q563.46,726.5 564.45,726.5 Q566.7,726.5 566.7,722.3 Q566.7,719.5 564.45,719.5 Q562.2,719.5 562.2,721.74 Q562.2,723.7 564.45,723.7 Q566.7,723.7 566.7,721.74 M709.5,720.9 L711.8,719.5 L711.8,726.5 M715.2,723 A2.4,3.5 0 1,0 720,723 A2.4,3.5 0 1,0 715.2,723 M859.5,720.9 L861.9,719.5 L861.9,726.5 M865.2,720.9 L867.6,719.5 L867.6,726.5" fill="none" stroke="#000" stroke-width="1.2" shape-rendering="crispEdges"/>
</svg></body></html>
